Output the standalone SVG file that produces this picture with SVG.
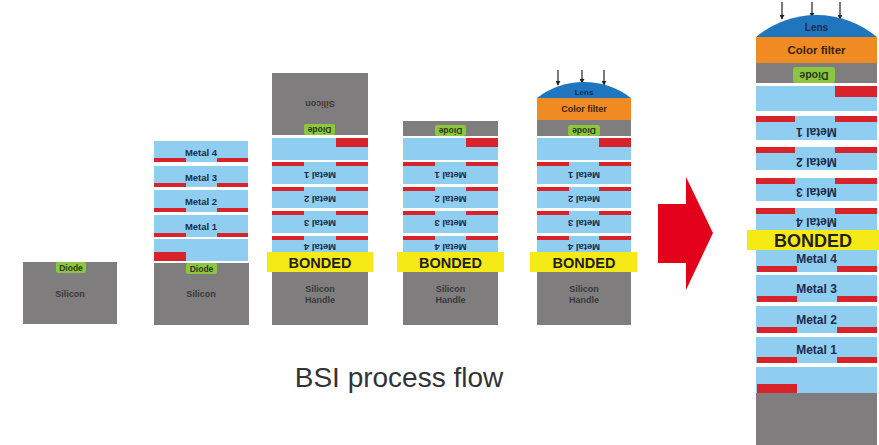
<svg xmlns="http://www.w3.org/2000/svg" width="879" height="445" viewBox="0 0 879 445">
  <style>
    .si{fill:#7f7d7e}
    .bl{fill:#8fcef0}
    .rd{fill:#d9232b}
    .bd{fill:#f5ea16}
    .di{fill:#8cc63f}
    .cf{fill:#f08a22}
    .ln{fill:#1f76bf}
    .t{font-family:"Liberation Sans",Arial,sans-serif;font-weight:bold;text-anchor:middle}
    .m{fill:#1c2b48;font-size:9.5px}
    .mb{fill:#1c2b48;font-size:12px}
    .g{fill:#3a3a3a;font-size:9px}
    .d{fill:#2a3a1a;font-size:8.5px}
    .b{fill:#231f20;font-size:14.5px}
    .bb{fill:#231f20;font-size:18px}
    .ray{stroke:#222;stroke-width:1.2;fill:none;marker-end:url(#tip)}
  </style>
  <defs>
    <marker id="tip" viewBox="0 0 6 6" refX="5" refY="3" markerWidth="5" markerHeight="5" orient="auto" markerUnits="userSpaceOnUse">
      <path d="M0,0 L6,3 L0,6 Z" fill="#222"/>
    </marker>
  </defs>
  <rect width="879" height="445" fill="#ffffff"/>

  <!-- step 1: bare silicon with diode -->
  <g id="step1">
    <rect class="si" x="23" y="262" width="94" height="62"/>
    <rect class="di" x="56" y="262" width="30" height="11" rx="2"/>
    <text class="t d" x="71" y="270.5">Diode</text>
    <text class="t g" x="70" y="297">Silicon</text>
  </g>

  <!-- step 2: metal stack on silicon -->
  <g id="step2">
    <rect class="bl" x="154" y="141" width="94" height="21"/>
    <rect class="rd" x="154" y="158" width="32" height="4"/>
    <rect class="rd" x="217" y="158" width="31" height="4"/>
    <text class="t m" x="201" y="155.5">Metal 4</text>
    <rect class="bl" x="154" y="166" width="94" height="21"/>
    <rect class="rd" x="154" y="183" width="32" height="4"/>
    <rect class="rd" x="217" y="183" width="31" height="4"/>
    <text class="t m" x="201" y="180.5">Metal 3</text>
    <rect class="bl" x="154" y="190" width="94" height="22"/>
    <rect class="rd" x="154" y="208" width="32" height="4"/>
    <rect class="rd" x="217" y="208" width="31" height="4"/>
    <text class="t m" x="201" y="204.5">Metal 2</text>
    <rect class="bl" x="154" y="215" width="94" height="22"/>
    <rect class="rd" x="154" y="233" width="32" height="4"/>
    <rect class="rd" x="217" y="233" width="31" height="4"/>
    <text class="t m" x="201" y="229.5">Metal 1</text>
    <rect class="bl" x="154" y="239" width="94" height="22"/>
    <rect class="rd" x="154" y="252" width="32" height="9"/>
    <rect class="si" x="154" y="263" width="95" height="62"/>
    <rect class="di" x="186" y="263" width="31" height="11" rx="2"/>
    <text class="t d" x="201.5" y="271.5">Diode</text>
    <text class="t g" x="201" y="297">Silicon</text>
  </g>

  <!-- step 3: flipped and bonded to handle wafer -->
  <g id="step3">
    <rect class="si" x="272" y="73" width="96" height="62"/>
    <text class="t g" transform="translate(320,104) rotate(180)" y="3">Silicon</text>
    <rect class="di" x="304" y="124" width="31" height="11" rx="2"/>
    <text class="t d" transform="translate(319.5,129.5) rotate(180)" y="3">Diode</text>
    <rect class="bl" x="272" y="138" width="96" height="22"/>
    <rect class="rd" x="336" y="138" width="32" height="9"/>
    <rect class="bl" x="272" y="162" width="96" height="22"/>
    <rect class="rd" x="272" y="162" width="32" height="4"/>
    <rect class="rd" x="336" y="162" width="32" height="4"/>
    <text class="t m" transform="translate(320,175) rotate(180)" y="3.5">Metal 1</text>
    <rect class="bl" x="272" y="187" width="96" height="21"/>
    <rect class="rd" x="272" y="187" width="32" height="4"/>
    <rect class="rd" x="336" y="187" width="32" height="4"/>
    <text class="t m" transform="translate(320,199) rotate(180)" y="3.5">Metal 2</text>
    <rect class="bl" x="272" y="211" width="96" height="22"/>
    <rect class="rd" x="272" y="211" width="32" height="4"/>
    <rect class="rd" x="336" y="211" width="32" height="4"/>
    <text class="t m" transform="translate(320,223) rotate(180)" y="3.5">Metal 3</text>
    <rect class="bl" x="272" y="236" width="96" height="17"/>
    <rect class="rd" x="272" y="236" width="32" height="4"/>
    <rect class="rd" x="336" y="236" width="32" height="4"/>
    <text class="t m" transform="translate(320,247) rotate(180)" y="3.5">Metal 4</text>
    <rect class="si" x="272" y="272" width="96" height="53"/>
    <text class="t g" x="320" y="292">Silicon</text>
    <text class="t g" x="320" y="303">Handle</text>
    <rect class="bd" x="267" y="252" width="106" height="20"/>
    <text class="t b" x="320" y="267.5">BONDED</text>
  </g>

  <!-- step 4: substrate thinned down to the diode -->
  <g id="step4">
    <rect class="si" x="403" y="121" width="95" height="15"/>
    <rect class="di" x="435" y="125" width="31" height="11" rx="2"/>
    <text class="t d" transform="translate(450.5,130.5) rotate(180)" y="3">Diode</text>
    <rect class="bl" x="403" y="138" width="95" height="22"/>
    <rect class="rd" x="466" y="138" width="32" height="9"/>
    <rect class="bl" x="403" y="162" width="95" height="22"/>
    <rect class="rd" x="403" y="162" width="32" height="4"/>
    <rect class="rd" x="466" y="162" width="32" height="4"/>
    <text class="t m" transform="translate(450.5,175) rotate(180)" y="3.5">Metal 1</text>
    <rect class="bl" x="403" y="187" width="95" height="21"/>
    <rect class="rd" x="403" y="187" width="32" height="4"/>
    <rect class="rd" x="466" y="187" width="32" height="4"/>
    <text class="t m" transform="translate(450.5,199) rotate(180)" y="3.5">Metal 2</text>
    <rect class="bl" x="403" y="211" width="95" height="22"/>
    <rect class="rd" x="403" y="211" width="32" height="4"/>
    <rect class="rd" x="466" y="211" width="32" height="4"/>
    <text class="t m" transform="translate(450.5,223) rotate(180)" y="3.5">Metal 3</text>
    <rect class="bl" x="403" y="236" width="95" height="17"/>
    <rect class="rd" x="403" y="236" width="32" height="4"/>
    <rect class="rd" x="466" y="236" width="32" height="4"/>
    <text class="t m" transform="translate(450.5,247) rotate(180)" y="3.5">Metal 4</text>
    <rect class="si" x="403" y="272" width="95" height="53"/>
    <text class="t g" x="450.5" y="292">Silicon</text>
    <text class="t g" x="450.5" y="303">Handle</text>
    <rect class="bd" x="397" y="252" width="107" height="20"/>
    <text class="t b" x="450.5" y="267.5">BONDED</text>
  </g>

  <!-- step 5: color filter and microlens added -->
  <g id="step5">
    <path class="ray" d="M558,70 V85"/>
    <path class="ray" d="M582,70 V83"/>
    <path class="ray" d="M604,70 V85"/>
    <path class="ln" d="M537,98 A77,77 0 0 1 631,98 Z"/>
    <text class="t m" x="584" y="95" style="font-size:8px">Lens</text>
    <rect class="cf" x="537" y="98" width="94" height="22"/>
    <text class="t m" x="584" y="112" style="font-size:9px;fill:#3a2410">Color filter</text>
    <rect class="si" x="537" y="120" width="94" height="16"/>
    <rect class="di" x="568" y="125" width="32" height="11" rx="2"/>
    <text class="t d" transform="translate(584,130.5) rotate(180)" y="3">Diode</text>
    <rect class="bl" x="537" y="138" width="94" height="22"/>
    <rect class="rd" x="599" y="138" width="32" height="9"/>
    <rect class="bl" x="537" y="162" width="94" height="22"/>
    <rect class="rd" x="537" y="162" width="32" height="4"/>
    <rect class="rd" x="599" y="162" width="32" height="4"/>
    <text class="t m" transform="translate(584,175) rotate(180)" y="3.5">Metal 1</text>
    <rect class="bl" x="537" y="187" width="94" height="21"/>
    <rect class="rd" x="537" y="187" width="32" height="4"/>
    <rect class="rd" x="599" y="187" width="32" height="4"/>
    <text class="t m" transform="translate(584,199) rotate(180)" y="3.5">Metal 2</text>
    <rect class="bl" x="537" y="211" width="94" height="22"/>
    <rect class="rd" x="537" y="211" width="32" height="4"/>
    <rect class="rd" x="599" y="211" width="32" height="4"/>
    <text class="t m" transform="translate(584,223) rotate(180)" y="3.5">Metal 3</text>
    <rect class="bl" x="537" y="236" width="94" height="17"/>
    <rect class="rd" x="537" y="236" width="32" height="4"/>
    <rect class="rd" x="599" y="236" width="32" height="4"/>
    <text class="t m" transform="translate(584,247) rotate(180)" y="3.5">Metal 4</text>
    <rect class="si" x="537" y="272" width="94" height="53"/>
    <text class="t g" x="584" y="292">Silicon</text>
    <text class="t g" x="584" y="303">Handle</text>
    <rect class="bd" x="530" y="252" width="107" height="20"/>
    <text class="t b" x="584" y="267.5">BONDED</text>
  </g>

  <!-- enlarged view of the finished BSI pixel -->
  <g id="detail">
    <path class="ray" d="M782,2 V19"/>
    <path class="ray" d="M812,2 V17"/>
    <path class="ray" d="M840,2 V19"/>
    <path class="ln" d="M756,37 A94,94 0 0 1 877,37 Z"/>
    <text class="t m" x="816.5" y="31" style="font-size:10px">Lens</text>
    <rect class="cf" x="756" y="37" width="121" height="26"/>
    <text class="t m" x="816.5" y="54" style="font-size:11.5px;fill:#3a2410">Color filter</text>
    <rect class="si" x="756" y="63" width="121" height="20"/>
    <rect class="di" x="793" y="67" width="42" height="16" rx="3"/>
    <text class="t d" transform="translate(814,75) rotate(180)" y="3.5" style="font-size:10.5px">Diode</text>
    <rect class="bl" x="756" y="86" width="121" height="25"/>
    <rect class="rd" x="835" y="86" width="42" height="11"/>
    <rect class="bl" x="756" y="116" width="121" height="24"/>
    <rect class="rd" x="756" y="116" width="39" height="6"/>
    <rect class="rd" x="835" y="116" width="42" height="6"/>
    <text class="t mb" transform="translate(816.5,132) rotate(180)" y="4.3">Metal 1</text>
    <rect class="bl" x="756" y="147" width="121" height="23"/>
    <rect class="rd" x="756" y="147" width="39" height="6"/>
    <rect class="rd" x="835" y="147" width="42" height="6"/>
    <text class="t mb" transform="translate(816.5,162) rotate(180)" y="4.3">Metal 2</text>
    <rect class="bl" x="756" y="178" width="121" height="23"/>
    <rect class="rd" x="756" y="178" width="39" height="6"/>
    <rect class="rd" x="835" y="178" width="42" height="6"/>
    <text class="t mb" transform="translate(816.5,192) rotate(180)" y="4.3">Metal 3</text>
    <rect class="bl" x="756" y="208" width="121" height="24"/>
    <rect class="rd" x="756" y="208" width="39" height="6"/>
    <rect class="rd" x="835" y="208" width="42" height="6"/>
    <text class="t mb" transform="translate(816.5,222) rotate(180)" y="4.3">Metal 4</text>
    <rect class="bl" x="756" y="250" width="121" height="22"/>
    <rect class="rd" x="757" y="266" width="40" height="6"/>
    <rect class="rd" x="837" y="266" width="40" height="6"/>
    <text class="t mb" x="816.5" y="262.5">Metal 4</text>
    <rect class="bl" x="756" y="275" width="121" height="27"/>
    <rect class="rd" x="757" y="296" width="40" height="6"/>
    <rect class="rd" x="837" y="296" width="40" height="6"/>
    <text class="t mb" x="816.5" y="292.5">Metal 3</text>
    <rect class="bl" x="756" y="306" width="121" height="27"/>
    <rect class="rd" x="757" y="327" width="40" height="6"/>
    <rect class="rd" x="837" y="327" width="40" height="6"/>
    <text class="t mb" x="816.5" y="323.5">Metal 2</text>
    <rect class="bl" x="756" y="337" width="121" height="26"/>
    <rect class="rd" x="757" y="357" width="40" height="6"/>
    <rect class="rd" x="837" y="357" width="40" height="6"/>
    <text class="t mb" x="816.5" y="354">Metal 1</text>
    <rect class="bl" x="756" y="367" width="121" height="26"/>
    <rect class="rd" x="757" y="384" width="40" height="9"/>
    <rect class="si" x="756" y="393" width="121" height="52"/>
    <rect class="bd" x="747" y="230" width="132" height="20"/>
    <text class="t bb" x="813" y="246.5">BONDED</text>
  </g>

  <!-- connectors -->
  <g id="connectors">
    <polygon points="658,204 686,204 686,177 713,233 686,290 686,263 658,263" fill="#e3001b"/>
  </g>

  <g id="caption">
    <text x="399" y="387" style="font-family:'Liberation Sans',Arial,sans-serif;font-size:28px;fill:#333333;text-anchor:middle">BSI process flow</text>
  </g>
</svg>
